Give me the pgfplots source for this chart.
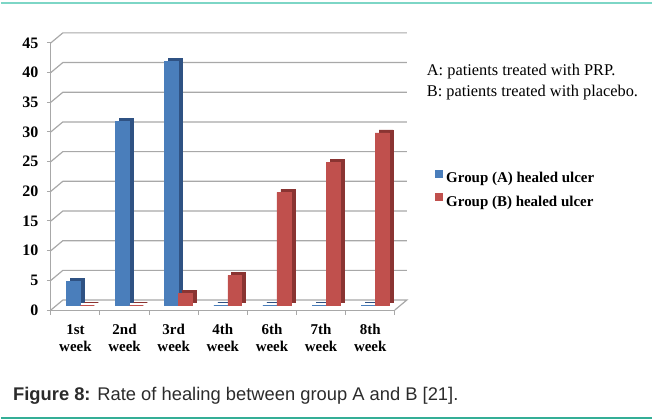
\documentclass[border=0pt]{standalone}
\usepackage{pgfplots}
\pgfplotsset{compat=1.18}
\usepackage{fontspec}
\setmainfont{Liberation Serif}
\newfontfamily\arialfont{Liberation Sans}
\definecolor{barA}{HTML}{4A7EBB}
\definecolor{barAd}{HTML}{2F5283}
\definecolor{barB}{HTML}{C0504D}
\definecolor{barBd}{HTML}{8A3432}
\definecolor{gridc}{HTML}{A8A8A8}
\definecolor{tealtop}{HTML}{7DD6C6}
\definecolor{tealbot}{HTML}{34AE96}
\definecolor{captc}{HTML}{2B2B2B}
\begin{document}
\begin{tikzpicture}[x=1pt,y=1pt]
\path (0,0) rectangle (653,421);
\draw[tealtop, line width=2pt] (0,418) -- (653,418);
\draw[tealbot, line width=1.8pt] (0,2) -- (653,2);
\begin{axis}[
  at={(50pt,110pt)}, anchor=south west,
  scale only axis, width=345pt, height=268pt,
  xmin=-0.5, xmax=6.5, ymin=0, ymax=45,
  axis x line*=bottom, axis y line*=left,
  axis line style={gridc, line width=1pt},
  ytick={0,5,...,45},
  xtick={0,...,6},
  xticklabels={{1st\\week},{2nd\\week},{3rd\\week},{4th\\week},{6th\\week},{7th\\week},{8th\\week}},
  minor xtick={-0.5,0.5,...,6.5},
  tick align=outside,
  major x tick style={draw=none},
  minor x tick style={gridc, line width=1pt},
  minor tick length=5pt,
  major tick length=4pt,
  y tick style={gridc, line width=1pt},
  /pgf/number format/assume math mode=true,
  tick label style={font=\bfseries\fontsize{16}{18}\selectfont, text=black},
  yticklabel style={xshift=-5pt},
  xticklabel style={align=center, yshift=-7pt, font=\bfseries\fontsize{15}{17}\selectfont},
  clip=false,
  legend style={at={(1.116,0.45)}, anchor=west, draw=none, fill=none,
    inner sep=0pt, outer sep=0pt,
    font=\bfseries\fontsize{15}{18}\selectfont, row sep=7pt},
  legend cell align=left,
]
\pgfplotsinvokeforeach{5,10,...,45}{
  \draw[gridc, line width=1.2pt] (axis cs:-0.5,#1) -- ++(12pt,10pt) -- ([xshift=12pt,yshift=10pt]axis cs:6.5,#1);
}
\draw[gridc, line width=1.2pt] (axis cs:-0.5,0) -- ++(12pt,10pt) -- ([xshift=12pt,yshift=10pt]axis cs:6.5,0) -- (axis cs:6.5,0);
\addplot[ybar, bar width=14pt, bar shift=2pt, fill=barAd, draw=barAd, line width=0.6pt, yshift=8pt, forget plot]
  coordinates {(0,4)(1,31)(2,41)(3,0)(4,0)(5,0)(6,0)};
\addplot[ybar, bar width=14pt, bar shift=-2pt, fill=barA, draw=barA, line width=0.6pt, yshift=5pt,
  legend image code/.code={\fill[barA] (0pt,-3.5pt) rectangle (7pt,3.5pt); \path (9pt,0pt);}]
  coordinates {(0,4)(1,31)(2,41)(3,0)(4,0)(5,0)(6,0)};
\addlegendentry{Group (A) healed ulcer}
\addplot[ybar, bar width=14pt, bar shift=16pt, fill=barBd, draw=barBd, line width=0.6pt, yshift=8pt, forget plot]
  coordinates {(0,0)(1,0)(2,2)(3,5)(4,19)(5,24)(6,29)};
\addplot[ybar, bar width=14pt, bar shift=12pt, fill=barB, draw=barB, line width=0.6pt, yshift=5pt,
  legend image code/.code={\fill[barB] (0pt,-3.5pt) rectangle (7pt,3.5pt); \path (9pt,0pt);}]
  coordinates {(0,0)(1,0)(2,2)(3,5)(4,19)(5,24)(6,29)};
\addlegendentry{Group (B) healed ulcer}
\end{axis}
\node[anchor=west, inner sep=0pt, font=\fontsize{16.4}{19}\selectfont] at (427,349) {A: patients treated with PRP.};
\node[anchor=west, inner sep=0pt, font=\fontsize{16.4}{19}\selectfont] at (427,328) {B: patients treated with placebo.};
\node[anchor=west, inner sep=0pt, font=\arialfont\fontsize{18.4}{21}\selectfont, text=captc] at (12,24) {\textbf{Figure 8:} Rate of healing between group A and B [21].};
\end{tikzpicture}
\end{document}
